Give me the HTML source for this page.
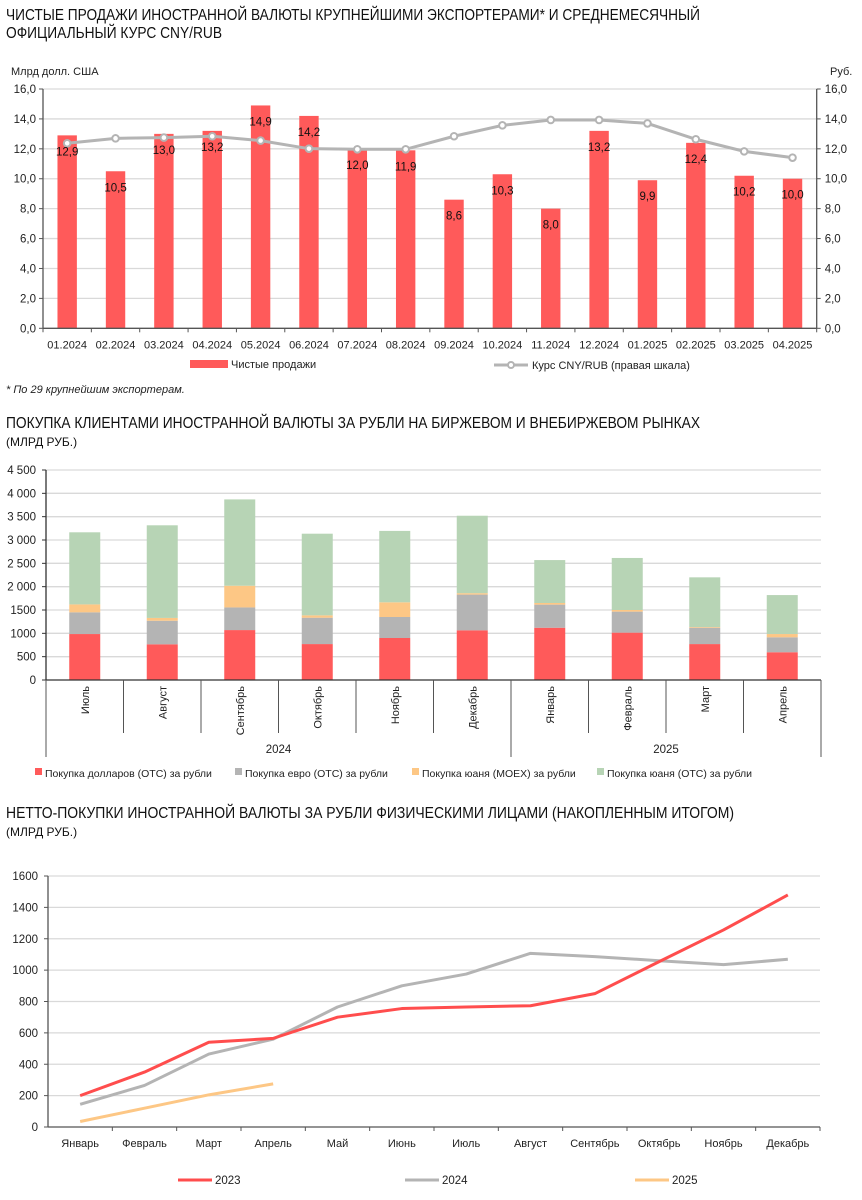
<!DOCTYPE html>
<html><head><meta charset="utf-8"><style>
body{margin:0;background:#fff;}
svg{display:block;font-family:"Liberation Sans",sans-serif;}
</style></head><body>
<svg id="s" width="862" height="1200" viewBox="0 0 862 1200" xmlns="http://www.w3.org/2000/svg">
<text x="6" y="20" font-size="15.5" fill="#111" textLength="694" lengthAdjust="spacingAndGlyphs">ЧИСТЫЕ ПРОДАЖИ ИНОСТРАННОЙ ВАЛЮТЫ КРУПНЕЙШИМИ ЭКСПОРТЕРАМИ* И СРЕДНЕМЕСЯЧНЫЙ</text>
<text x="6" y="38" font-size="15.5" fill="#111" textLength="216" lengthAdjust="spacingAndGlyphs">ОФИЦИАЛЬНЫЙ КУРС CNY/RUB</text>
<text x="11" y="75" font-size="11" fill="#222">Млрд долл. США</text>
<text x="830" y="75" font-size="11" fill="#222">Руб.</text>
<g id="c1"></g>
<rect x="190" y="360" width="38" height="8" fill="#ff5a5a"/>
<text x="231" y="368" font-size="11" fill="#222">Чистые продажи</text>
<line x1="494" y1="365" x2="528" y2="365" stroke="#b4b4b4" stroke-width="3"/>
<circle cx="511" cy="365" r="3" fill="#fff" stroke="#b4b4b4" stroke-width="2"/>
<text x="532" y="369" font-size="11" fill="#222">Курс CNY/RUB (правая шкала)</text>
<text x="6" y="393" font-size="11" font-style="italic" fill="#222">* По 29 крупнейшим экспортерам.</text>

<text x="6" y="428" font-size="15.5" fill="#111" textLength="694" lengthAdjust="spacingAndGlyphs">ПОКУПКА КЛИЕНТАМИ ИНОСТРАННОЙ ВАЛЮТЫ ЗА РУБЛИ НА БИРЖЕВОМ И ВНЕБИРЖЕВОМ РЫНКАХ</text>
<text x="6" y="446" font-size="12" fill="#111">(МЛРД РУБ.)</text>
<g id="c2"></g>

<text x="6" y="818" font-size="15.5" fill="#111" textLength="728" lengthAdjust="spacingAndGlyphs">НЕТТО-ПОКУПКИ ИНОСТРАННОЙ ВАЛЮТЫ ЗА РУБЛИ ФИЗИЧЕСКИМИ ЛИЦАМИ (НАКОПЛЕННЫМ ИТОГОМ)</text>
<text x="6" y="836" font-size="12" fill="#111">(МЛРД РУБ.)</text>
<g id="c3"></g>
</svg>
<script>
const c1Cats=["01.2024","02.2024","03.2024","04.2024","05.2024","06.2024","07.2024","08.2024","09.2024","10.2024","11.2024","12.2024","01.2025","02.2025","03.2025","04.2025"];
const c1Sales=[12.9,10.5,13.0,13.2,14.9,14.2,12.0,11.9,8.6,10.3,8.0,13.2,9.9,12.4,10.2,10.0];
const c1Rate=[12.37,12.7,12.75,12.84,12.55,12.01,11.97,11.97,12.84,13.57,13.93,13.93,13.7,12.64,11.83,11.41];
const c1Ticks=[0,2,4,6,8,10,12,14,16];

const c2Cats=["Июль","Август","Сентябрь","Октябрь","Ноябрь","Декабрь","Январь","Февраль","Март","Апрель"];
const c2Usd=[985,765,1070,770,900,1065,1120,1015,770,595];
const c2Eur=[465,505,485,565,450,765,495,450,350,320];
const c2Moex=[170,60,465,50,315,30,35,35,15,70];
const c2Otc=[1545,1985,1850,1750,1530,1660,920,1115,1065,835];
const c2Ticks=[0,500,1000,1500,2000,2500,3000,3500,4000,4500];
const c2TickLabels=["0","500","1000","1500","2 000","2 500","3 000","3 500","4 000","4 500"];

const c3Cats=["Январь","Февраль","Март","Апрель","Май","Июнь","Июль","Август","Сентябрь","Октябрь","Ноябрь","Декабрь"];
const c3Y2023=[200,350,540,565,700,755,765,773,850,1054,1256,1479];
const c3Y2024=[145,265,465,560,765,900,975,1107,1086,1060,1035,1069];
const c3Y2025=[35,120,205,275];
const c3Ticks=[0,200,400,600,800,1000,1200,1400,1600];

const NS="http://www.w3.org/2000/svg";
function mk(parent,tag,attrs,text){const e=document.createElementNS(NS,tag);for(const k in attrs)e.setAttribute(k,attrs[k]);if(text!==undefined)e.textContent=text;parent.appendChild(e);return e;}
const fmt=v=>v.toFixed(1).replace('.',',');

// Chart 1
(function(){
const g=document.getElementById('c1');
const L=43,R=816.7,T=89,B=328.3,max=16;
const slot=(R-L)/c1Cats.length;
const y=v=>B-(v/max)*(B-T);
const x=i=>L+slot*(i+0.5);
c1Ticks.forEach(t=>{
 if(t>0){const gl=mk(g,'line',{x1:L,x2:R,y1:y(t),y2:y(t),stroke:'#d9d9d9','stroke-width':1.3});
 
 }
 const tl=mk(g,'text',{x:L-7,y:y(t)+4,'font-size':11.5,'text-anchor':'end',fill:'#222'},fmt(t));
 
 
 const tr=mk(g,'text',{x:R+8,y:y(t)+4,'font-size':11.5,fill:'#222'},fmt(t));
 
 
 mk(g,'line',{x1:L-4,x2:L,y1:y(t),y2:y(t),stroke:'#555'});
 mk(g,'line',{x1:R,x2:R+4,y1:y(t),y2:y(t),stroke:'#555'});
});
mk(g,'line',{x1:L,x2:L,y1:T,y2:B,stroke:'#555','stroke-width':1.3});
mk(g,'line',{x1:R,x2:R,y1:T,y2:B,stroke:'#555','stroke-width':1.3});
c1Sales.forEach((v,i)=>{
 const r=mk(g,'rect',{x:x(i)-9.7,y:y(v),width:19.4,height:B-y(v),fill:'#ff5a5a'});
 
 
});
mk(g,'line',{x1:L,x2:R,y1:B,y2:B,stroke:'#555','stroke-width':1.3});
c1Cats.forEach((c,i)=>{
 mk(g,'line',{x1:L+slot*i,x2:L+slot*i,y1:B,y2:B+4,stroke:'#555'});
 const t=mk(g,'text',{x:x(i),y:B+20,'font-size':11,'text-anchor':'middle',fill:'#222'},c);
 
 
});
mk(g,'line',{x1:R,x2:R,y1:B,y2:B+4,stroke:'#555'});
const pts=c1Rate.map((v,i)=>x(i)+','+y(v)).join(' ');
const pl=mk(g,'polyline',{points:pts,fill:'none',stroke:'#b4b4b4','stroke-width':3});


c1Rate.forEach((v,i)=>{
 const c=mk(g,'circle',{cx:x(i),cy:y(v),r:3.3,fill:'#fff',stroke:'#b4b4b4','stroke-width':2});
 
 
});
c1Sales.forEach((v,i)=>{
 const t=mk(g,'text',{x:x(i),y:y(v)+20,'font-size':11.5,'text-anchor':'middle',fill:'#111'},fmt(v));
 
 
});
})();

// Chart 2
(function(){
const g=document.getElementById('c2');
const L=46,R=821,B=680,max=4500,T=470;
const slot=(R-L)/c2Cats.length;
const y=v=>B-(v/max)*(B-T);
const x=i=>L+slot*(i+0.5);
c2Ticks.forEach((t,k)=>{
 if(t>0) mk(g,'line',{x1:L,x2:R,y1:y(t),y2:y(t),stroke:'#d9d9d9','stroke-width':1.3});
 mk(g,'line',{x1:L-4,x2:L,y1:y(t),y2:y(t),stroke:'#333'});
 const tl=mk(g,'text',{x:36,y:y(t)+4,'font-size':11.5,'text-anchor':'end',fill:'#222'},c2TickLabels[k]);
 
 
});
mk(g,'line',{x1:L,x2:L,y1:T,y2:B,stroke:'#333','stroke-width':1.3});
const series=[[c2Usd,'#ff5a5a','usd'],[c2Eur,'#b4b4b4','eur'],[c2Moex,'#fdc785','cny-moex'],[c2Otc,'#b7d4b5','cny-otc']];
c2Cats.forEach((c,i)=>{
 let acc=0;
 series.forEach(s=>{
  const v=s[0][i];
  const r=mk(g,'rect',{x:x(i)-15.5,y:y(acc+v),width:31,height:y(acc)-y(acc+v),fill:s[1]});
  
  
  acc+=v;
 });
 const t=mk(g,'text',{x:0,y:0,'font-size':11,'text-anchor':'end',fill:'#222',transform:'translate('+(x(i)+4)+',686) rotate(-90)'},c);
 
 
});
mk(g,'line',{x1:L,x2:R,y1:B,y2:B,stroke:'#333','stroke-width':1.3});
for(let i=0;i<=c2Cats.length;i++){
 const big=(i===0||i===6||i===c2Cats.length);
 mk(g,'line',{x1:L+slot*i,x2:L+slot*i,y1:B,y2:big?757:733,stroke:'#555','stroke-width':1});
}
const y1=mk(g,'text',{x:L+slot*3,y:753,'font-size':11.5,'text-anchor':'middle',fill:'#222'},'2024');


const y2=mk(g,'text',{x:L+slot*8,y:753,'font-size':11.5,'text-anchor':'middle',fill:'#222'},'2025');


const leg=[[35,'#ff5a5a','Покупка долларов (OTC) за рубли'],[235,'#b4b4b4','Покупка евро (OTC) за рубли'],[412,'#fdc785','Покупка юаня (MOEX) за рубли'],[597,'#b7d4b5','Покупка юаня (OTC) за рубли']];
leg.forEach(l=>{
 const r=mk(g,'rect',{x:l[0],y:768,width:7,height:7,fill:l[1]});
 
 
 const t=mk(g,'text',{x:l[0]+10,y:777,'font-size':10.5,fill:'#222'},l[2]);
 
 
});
})();

// Chart 3
(function(){
const g=document.getElementById('c3');
const L=48,R=820,B=1127,T=876,max=1600;
const slot=(R-L)/c3Cats.length;
const y=v=>B-(v/max)*(B-T);
const x=i=>L+slot*(i+0.5);
c3Ticks.forEach(t=>{
 if(t>0) mk(g,'line',{x1:L,x2:R,y1:y(t),y2:y(t),stroke:'#d9d9d9','stroke-width':1.3});
 mk(g,'line',{x1:L-4,x2:L,y1:y(t),y2:y(t),stroke:'#555'});
 const tl=mk(g,'text',{x:38,y:y(t)+4,'font-size':11.5,'text-anchor':'end',fill:'#222'},String(t));
 
 
});
mk(g,'line',{x1:L,x2:L,y1:T,y2:B,stroke:'#555','stroke-width':1.3});
mk(g,'line',{x1:L,x2:R,y1:B,y2:B,stroke:'#555','stroke-width':1.3});
c3Cats.forEach((c,i)=>{
 mk(g,'line',{x1:L+slot*(i+1),x2:L+slot*(i+1),y1:B,y2:B+4,stroke:'#555'});
 const t=mk(g,'text',{x:x(i),y:1147,'font-size':11,'text-anchor':'middle',fill:'#222'},c);
 
 
});
const ser=[[c3Y2025,'#fdc785','line-2025'],[c3Y2024,'#b4b4b4','line-2024'],[c3Y2023,'#ff4d4d','line-2023']];
ser.forEach(s=>{
 const p=mk(g,'polyline',{points:s[0].map((v,i)=>x(i)+','+y(v)).join(' '),fill:'none',stroke:s[1],'stroke-width':3,'stroke-linejoin':'round'});
 
 
});
const leg=[[178,'#ff4d4d','2023'],[405,'#b4b4b4','2024'],[635,'#fdc785','2025']];
leg.forEach(l=>{
 mk(g,'line',{x1:l[0],x2:l[0]+34,y1:1180,y2:1180,stroke:l[1],'stroke-width':3});
 const t=mk(g,'text',{x:l[0]+37,y:1184,'font-size':11.5,fill:'#222'},l[2]);
 
 
});
})();
</script>
</body></html>
